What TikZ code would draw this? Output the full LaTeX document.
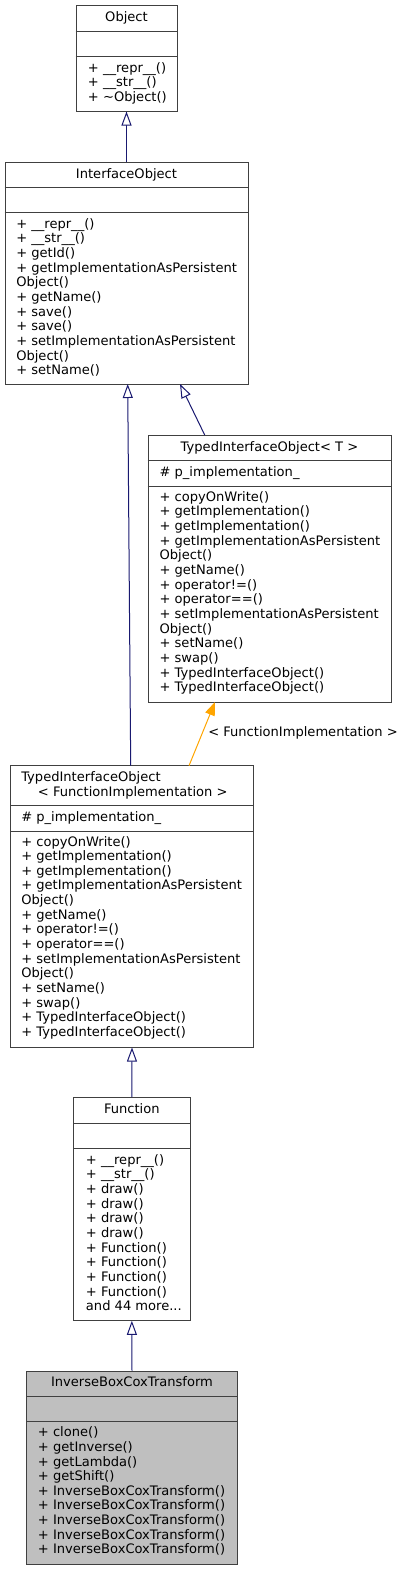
\documentclass[tikz,border=0pt]{standalone}
\usepackage{fontspec}
\setmainfont{DejaVu Sans}
\usetikzlibrary{arrows.meta,fit}
\definecolor{edgeblue}{HTML}{191970}
\definecolor{boxline}{HTML}{404040}
\definecolor{boxgray}{HTML}{BFBFBF}
\definecolor{tmplorange}{HTML}{FFA500}
\tikzset{
  classbox/.style={draw=boxline, line width=0.75pt, inner sep=0pt},
  sepline/.style={draw=boxline, line width=0.75pt},
  txt/.style={inner sep=0pt, font=\fontsize{9.8}{11}\selectfont, text=black},
  inh/.style={draw=edgeblue, line width=0.75pt, -{Triangle[length=10.5pt, width=7.5pt, fill=white]}},
  tmpl/.style={draw=tmplorange, line width=0.75pt, -{Triangle[length=10pt, width=7.5pt, fill=tmplorange]}},
}
\newcommand\threedots{...}
\newcommand\memberlist[4]{%
  \foreach \t [count=\i from 0] in {#4} {\node[txt, anchor=base west] (#1\i) at (#2, #3+\i*14.65) {\t};}%
}
\begin{document}
\begin{tikzpicture}[x=0.75pt,y=-0.75pt]
\useasboundingbox (0,0) rectangle (403,1571);

% ---------- Object ----------
\node[classbox, fit={(76,5.7) (177,111)}] (obj) {};
\draw[sepline] (obj.west |- 0,31.7) -- (obj.east |- 0,31.7);
\draw[sepline] (obj.west |- 0,56.7) -- (obj.east |- 0,56.7);
\node[txt, anchor=base] (objh) at (126.5,21.8) {Object};
\memberlist{objm}{87.7}{72.3}{{+ \_\_repr\_\_()},{+ \_\_str\_\_()},{+ \textasciitilde Object()}}

% ---------- InterfaceObject ----------
\node[classbox, fit={(5,162) (248,384)}] (io) {};
\draw[sepline] (io.west |- 0,187.3) -- (io.east |- 0,187.3);
\draw[sepline] (io.west |- 0,212.7) -- (io.east |- 0,212.7);
\node[txt, anchor=base] (ioh) at (126.5,178.2) {InterfaceObject};
\memberlist{iom}{16}{228.3}{{+ \_\_repr\_\_()},{+ \_\_str\_\_()},{+ getId()},{+ getImplementationAsPersistent},{Object()},{+ getName()},{+ save()},{+ save()},{+ setImplementationAsPersistent},{Object()},{+ setName()}}

% ---------- TypedInterfaceObject< T > ----------
\node[classbox, fit={(148,435) (391,702)}] (tiot) {};
\draw[sepline] (tiot.west |- 0,460.7) -- (tiot.east |- 0,460.7);
\draw[sepline] (tiot.west |- 0,486) -- (tiot.east |- 0,486);
\node[txt, anchor=base] (tioth) at (269.5,451.2) {TypedInterfaceObject< T >};
\node[txt, anchor=base west] (tiota) at (159.3,476.7) {\# p\_implementation\_};
\memberlist{tiotm}{159.3}{501.3}{{+ copyOnWrite()},{+ getImplementation()},{+ getImplementation()},{+ getImplementationAsPersistent},{Object()},{+ getName()},{+ operator!=()},{+ operator==()},{+ setImplementationAsPersistent},{Object()},{+ setName()},{+ swap()},{+ TypedInterfaceObject()},{+ TypedInterfaceObject()}}

% ---------- TypedInterfaceObject< FunctionImplementation > ----------
\node[classbox, fit={(10.7,765.7) (253.3,1047)}] (tiofi) {};
\draw[sepline] (tiofi.west |- 0,805.7) -- (tiofi.east |- 0,805.7);
\draw[sepline] (tiofi.west |- 0,831) -- (tiofi.east |- 0,831);
\node[txt, anchor=base west] (tiofih1) at (21,781.3) {TypedInterfaceObject};
\node[txt, anchor=base west] (tiofih2) at (37.7,796.3) {< FunctionImplementation >};
\node[txt, anchor=base west] (tiofia) at (21,821.7) {\# p\_implementation\_};
\memberlist{tiofim}{21}{846}{{+ copyOnWrite()},{+ getImplementation()},{+ getImplementation()},{+ getImplementationAsPersistent},{Object()},{+ getName()},{+ operator!=()},{+ operator==()},{+ setImplementationAsPersistent},{Object()},{+ setName()},{+ swap()},{+ TypedInterfaceObject()},{+ TypedInterfaceObject()}}

% ---------- Function ----------
\node[classbox, fit={(73.7,1097.7) (190,1320.3)}] (func) {};
\draw[sepline] (func.west |- 0,1123.3) -- (func.east |- 0,1123.3);
\draw[sepline] (func.west |- 0,1148.7) -- (func.east |- 0,1148.7);
\node[txt, anchor=base] (funch) at (131.85,1113.8) {Function};
\memberlist{funcm}{85.7}{1164.3}{{+ \_\_repr\_\_()},{+ \_\_str\_\_()},{+ draw()},{+ draw()},{+ draw()},{+ draw()},{+ Function()},{+ Function()},{+ Function()},{+ Function()},{and 44 more\threedots}}

% ---------- InverseBoxCoxTransform ----------
\node[classbox, fill=boxgray, fit={(26.7,1371) (237.3,1564.3)}] (ibct) {};
\draw[sepline] (ibct.west |- 0,1396.7) -- (ibct.east |- 0,1396.7);
\draw[sepline] (ibct.west |- 0,1421.7) -- (ibct.east |- 0,1421.7);
\node[txt, anchor=base] (ibcth) at (132,1386.8) {InverseBoxCoxTransform};
\memberlist{ibctm}{37.7}{1436.7}{{+ clone()},{+ getInverse()},{+ getLambda()},{+ getShift()},{+ InverseBoxCoxTransform()},{+ InverseBoxCoxTransform()},{+ InverseBoxCoxTransform()},{+ InverseBoxCoxTransform()},{+ InverseBoxCoxTransform()}}

% ---------- connectors ----------
\coordinate (e2s) at (204.7,435);
\coordinate (e2t) at (180,384);
\coordinate (e3s) at (130.7,765.7);
\coordinate (e3t) at (127.7,384);
\coordinate (e4s) at (189,765.7);
\coordinate (e4t) at (215,702);

\draw[inh] (io.north) -- (obj.south);
\draw[inh] (e2s) -- (e2t);
\draw[inh] (e3s) -- (e3t);
\draw[tmpl] (e4s) -- (e4t);
\node[txt, anchor=base west] (tmpllbl) at (208,736.3) {< FunctionImplementation >};
\draw[inh] (func.north) -- (tiofi.south);
\draw[inh] (ibct.north) -- (func.south);
\end{tikzpicture}
\end{document}
